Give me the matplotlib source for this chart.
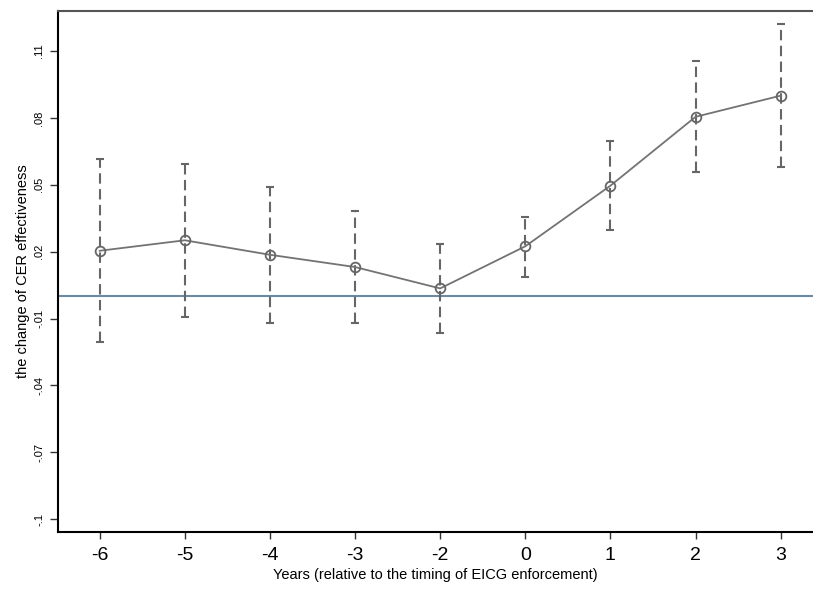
import matplotlib
matplotlib.use("Agg")
from matplotlib import pyplot as plt

plt.rcParams['font.family'] = ['Liberation Sans', 'DejaVu Sans']

# event-study estimates
years = ["-6", "-5", "-4", "-3", "-2", "0", "1", "2", "3"]
coef = [0.0204, 0.0251, 0.0186, 0.0131, 0.0035, 0.0224, 0.0496, 0.0805, 0.0900]
ci_low = [-0.0207, -0.0091, -0.0118, -0.0120, -0.0163, 0.0086, 0.0295, 0.0556, 0.0578]
ci_high = [0.0616, 0.0595, 0.0489, 0.0384, 0.0233, 0.0357, 0.0695, 0.1054, 0.1222]
yticks = [0.11, 0.08, 0.05, 0.02, -0.01, -0.04, -0.07, -0.10]
ytick_labels = [".11", ".08", ".05", ".02", "-.01", "-.04", "-.07", "-.1"]

fig = plt.figure(figsize=(8.13, 5.90), dpi=100)
ax = fig.add_axes([0.0713, 0.0983, 0.9287, 0.8831])

x = list(range(len(years)))
err_lo = [c - l for c, l in zip(coef, ci_low)]
err_hi = [h - c for c, h in zip(coef, ci_high)]

eb = ax.errorbar(x, coef, yerr=[err_lo, err_hi], fmt='none', ecolor='#666666',
                 elinewidth=1.5, capsize=3, capthick=1.5, zorder=2)
eb[2][0].set_linestyle((0, (5, 2.6)))

ax.axhline(0, color='#6a8aa6', lw=1.5, zorder=1)
ax.plot(x, coef, color='#737373', lw=1.3, marker='o', markersize=7,
        markerfacecolor='none', markeredgecolor='#666666', markeredgewidth=1.3, zorder=3)

ax.set_xlim(-0.49, 8.38)
ax.set_ylim(-0.1058, 0.128)

ax.set_xticks(x)
ax.set_xticklabels(years, fontsize=14)
ax.set_yticks(yticks)
ax.set_yticklabels(ytick_labels, fontsize=8, rotation=90, va='center')
ax.tick_params(axis='y', length=6, width=1, color='#333333', pad=4)
ax.tick_params(axis='x', length=5, width=1, color='#333333', pad=6)

ax.spines['right'].set_visible(False)
ax.spines['top'].set_color('#555555')
ax.spines['top'].set_linewidth(1.5)
ax.spines['left'].set_linewidth(1.5)
ax.spines['bottom'].set_linewidth(1.5)

ax.set_xlabel("Years (relative to the timing of EICG enforcement)", fontsize=10.5, labelpad=3)
ax.set_ylabel("the change of CER effectiveness", fontsize=10.5, labelpad=3)

fig.savefig("out.png", dpi=100)
